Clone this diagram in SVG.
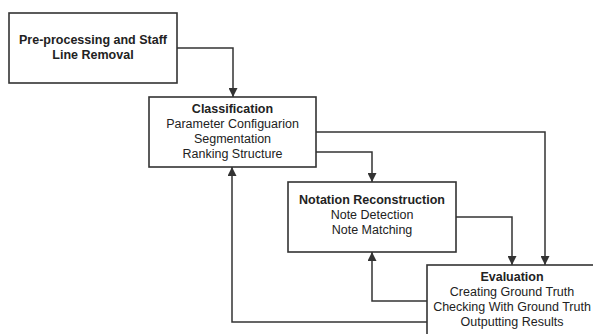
<svg xmlns="http://www.w3.org/2000/svg" width="593" height="334" viewBox="0 0 593 334">
<style>
.box{fill:#fff;stroke:#333;stroke-width:1.6}
.t{font-family:"Liberation Sans",Arial,sans-serif;font-size:12.5px;fill:#222;text-anchor:middle}
.b{font-weight:bold}
.c{fill:none;stroke:#333;stroke-width:1.5}
</style>
<defs>
<marker id="ah" viewBox="0 0 10 10" refX="10" refY="5" markerWidth="9" markerHeight="9" markerUnits="userSpaceOnUse" orient="auto">
<path d="M0,0 L10,5 L0,10 z" fill="#333"/>
</marker>
</defs>
<rect width="593" height="334" fill="#fff"/>
<g id="connectors">
<path class="c" d="M177,48 H233 V97" marker-end="url(#ah)"/>
<path class="c" d="M316,152 H372 V182" marker-end="url(#ah)"/>
<path class="c" d="M316,132 H545 V265" marker-end="url(#ah)"/>
<path class="c" d="M456,217 H512 V265" marker-end="url(#ah)"/>
<path class="c" d="M427,301 H372 V252" marker-end="url(#ah)"/>
<path class="c" d="M427,322 H232 V167" marker-end="url(#ah)"/>
</g>
<g id="preprocessing">
<rect class="box" x="9" y="13" width="168" height="70"/>
<text class="t b" x="93" y="43.5">Pre-processing and Staff</text>
<text class="t b" x="93" y="58.5">Line Removal</text>
</g>
<g id="classification">
<rect class="box" x="149" y="97" width="167" height="70"/>
<text class="t b" x="232.5" y="112.5">Classification</text>
<text class="t" x="232.5" y="127.5">Parameter Configuarion</text>
<text class="t" x="232.5" y="142.5">Segmentation</text>
<text class="t" x="232.5" y="157.5">Ranking Structure</text>
</g>
<g id="notation">
<rect class="box" x="288" y="182" width="168" height="70"/>
<text class="t b" x="372" y="204">Notation Reconstruction</text>
<text class="t" x="372" y="219">Note Detection</text>
<text class="t" x="372" y="234">Note Matching</text>
</g>
<g id="evaluation">
<rect class="box" x="427" y="265" width="170" height="80"/>
<text class="t b" x="512" y="281">Evaluation</text>
<text class="t" x="512" y="296">Creating Ground Truth</text>
<text class="t" x="512" y="311">Checking With Ground Truth</text>
<text class="t" x="512" y="326">Outputting Results</text>
</g>
</svg>
